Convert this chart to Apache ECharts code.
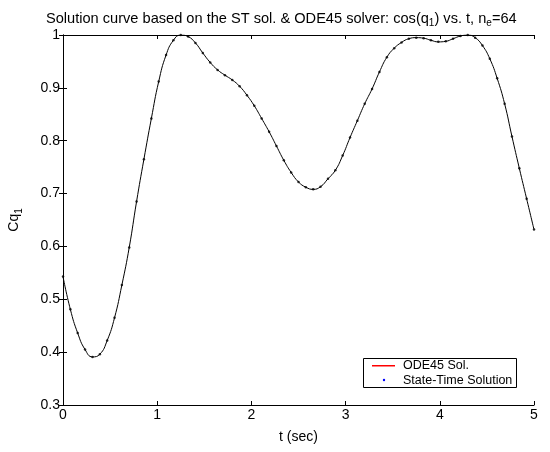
<!DOCTYPE html>
<html>
<head>
<meta charset="utf-8">
<script src="https://cdn.jsdelivr.net/npm/echarts@6/dist/echarts.min.js"></script>
<style>
  html, body { margin: 0; padding: 0; background: #fff; }
  #chart { width: 550px; height: 452px; }
</style>
</head>
<body>
<div id="chart"></div>
<script>
// time nodes (sec), ne = 64 elements
var timeData = [
  0.000, 0.078, 0.156, 0.234, 0.313, 0.391, 0.469, 0.547, 0.625, 0.703,
  0.781, 0.859, 0.938, 1.016, 1.094, 1.172, 1.250, 1.328, 1.406, 1.484,
  1.563, 1.641, 1.719, 1.797, 1.875, 1.953, 2.031, 2.109, 2.188, 2.266,
  2.344, 2.422, 2.500, 2.578, 2.656, 2.734, 2.813, 2.891, 2.969, 3.047,
  3.125, 3.203, 3.281, 3.359, 3.438, 3.516, 3.594, 3.672, 3.750, 3.828,
  3.906, 3.984, 4.063, 4.141, 4.219, 4.297, 4.375, 4.453, 4.531, 4.609,
  4.688, 4.766, 4.844, 4.922, 5.000
];
// cos(q1)
var cq1Data = [
  0.543, 0.481, 0.436, 0.405, 0.391, 0.396, 0.422, 0.465, 0.527, 0.598,
  0.685, 0.765, 0.842, 0.912, 0.962, 0.990, 1.000, 0.997, 0.985, 0.966,
  0.948, 0.934, 0.924, 0.915, 0.903, 0.886, 0.866, 0.842, 0.817, 0.790,
  0.763, 0.740, 0.722, 0.712, 0.708, 0.713, 0.728, 0.744, 0.772, 0.806,
  0.838, 0.870, 0.898, 0.930, 0.958, 0.975, 0.986, 0.993, 0.995, 0.994,
  0.990, 0.987, 0.988, 0.993, 0.998, 1.000, 0.995, 0.980, 0.955, 0.918,
  0.870, 0.808, 0.748, 0.690, 0.632
];
var xTicks = [0, 1, 2, 3, 4, 5];
var yTicks = [0.3, 0.4, 0.5, 0.6, 0.7, 0.8, 0.9, 1];
var legendNames = ["ODE45 Sol.", "State-Time Solution"];

var pts = timeData.map(function (t, i) { return [t, cq1Data[i]]; });
var font = "Liberation Sans, Arial, Helvetica, sans-serif";

var chart = echarts.init(document.getElementById("chart"));

var axisCommon = {
  axisLine: { show: true, lineStyle: { color: "#000", width: 1 } },
  axisTick: { show: true, inside: true, length: 4, lineStyle: { color: "#000" } },
  splitLine: { show: false }
};

chart.setOption({
  animation: false,
  backgroundColor: "#fff",
  title: {
    text: "Solution curve based on the ST sol. & ODE45 solver: cos(q{sub|1}) vs. t, n{sub|e}=64",
    left: 41,
    top: 4,
    textStyle: {
      fontFamily: font, fontSize: 14.6, fontWeight: "normal", color: "#000",
      rich: { sub: { fontFamily: font, fontSize: 10, padding: [9, 0, 0, 0], color: "#000" } }
    }
  },
  grid: { left: 63, right: 16, top: 35, bottom: 47, show: false, containLabel: false, outerBoundsMode: "none" },
  xAxis: [
    Object.assign({}, axisCommon, {
      type: "value", min: xTicks[0], max: xTicks[xTicks.length - 1], interval: 1,
      name: "t (sec)", nameLocation: "middle", nameGap: 25,
      nameTextStyle: { fontFamily: font, fontSize: 14, color: "#000" },
      axisLabel: { fontFamily: font, fontSize: 14, color: "#000", margin: 3 }
    }),
    Object.assign({}, axisCommon, {
      type: "value", position: "top", min: xTicks[0], max: xTicks[xTicks.length - 1], interval: 1,
      axisLabel: { show: false }
    })
  ],
  yAxis: [
    Object.assign({}, axisCommon, {
      type: "value", min: yTicks[0], max: yTicks[yTicks.length - 1], interval: 0.1,
      name: "Cq{sub|1}", nameLocation: "middle", nameGap: 39, nameRotate: 90,
      nameTextStyle: {
        fontFamily: font, fontSize: 14, color: "#000",
        rich: { sub: { fontFamily: font, fontSize: 10, padding: [9, 0, 0, 0], color: "#000" } }
      },
      axisLabel: {
        fontFamily: font, fontSize: 14, color: "#000", margin: 3,
        formatter: function (v) { return String(+v.toFixed(1)); }
      }
    }),
    Object.assign({}, axisCommon, {
      type: "value", position: "right", min: yTicks[0], max: yTicks[yTicks.length - 1], interval: 0.1,
      axisLabel: { show: false }
    })
  ],
  series: [
    {
      name: legendNames[0], type: "line", data: pts, smooth: true,
      showSymbol: false, lineStyle: { color: "#000", width: 1 }, z: 2
    },
    {
      name: legendNames[1], type: "scatter", data: pts,
      symbol: "circle", symbolSize: 2.5, itemStyle: { color: "#000" }, z: 3
    }
  ],
  graphic: [
    { type: "rect", shape: { x: 363.5, y: 358.5, width: 153, height: 29 },
      style: { fill: "#fff", stroke: "#000", lineWidth: 1 }, z: 10 },
    { type: "rect", shape: { x: 372, y: 365, width: 23, height: 1.5 },
      style: { fill: "#ff0000" }, z: 11 },
    { type: "circle", shape: { cx: 384, cy: 380, r: 1.2 },
      style: { fill: "#0000ff" }, z: 11 },
    { type: "text", x: 403, y: 366, z: 11,
      style: { text: legendNames[0], font: "12.5px " + font, fill: "#000", textVerticalAlign: "middle" } },
    { type: "text", x: 403, y: 380.5, z: 11,
      style: { text: legendNames[1], font: "12.5px " + font, fill: "#000", textVerticalAlign: "middle" } }
  ]
});
</script>
</body>
</html>
